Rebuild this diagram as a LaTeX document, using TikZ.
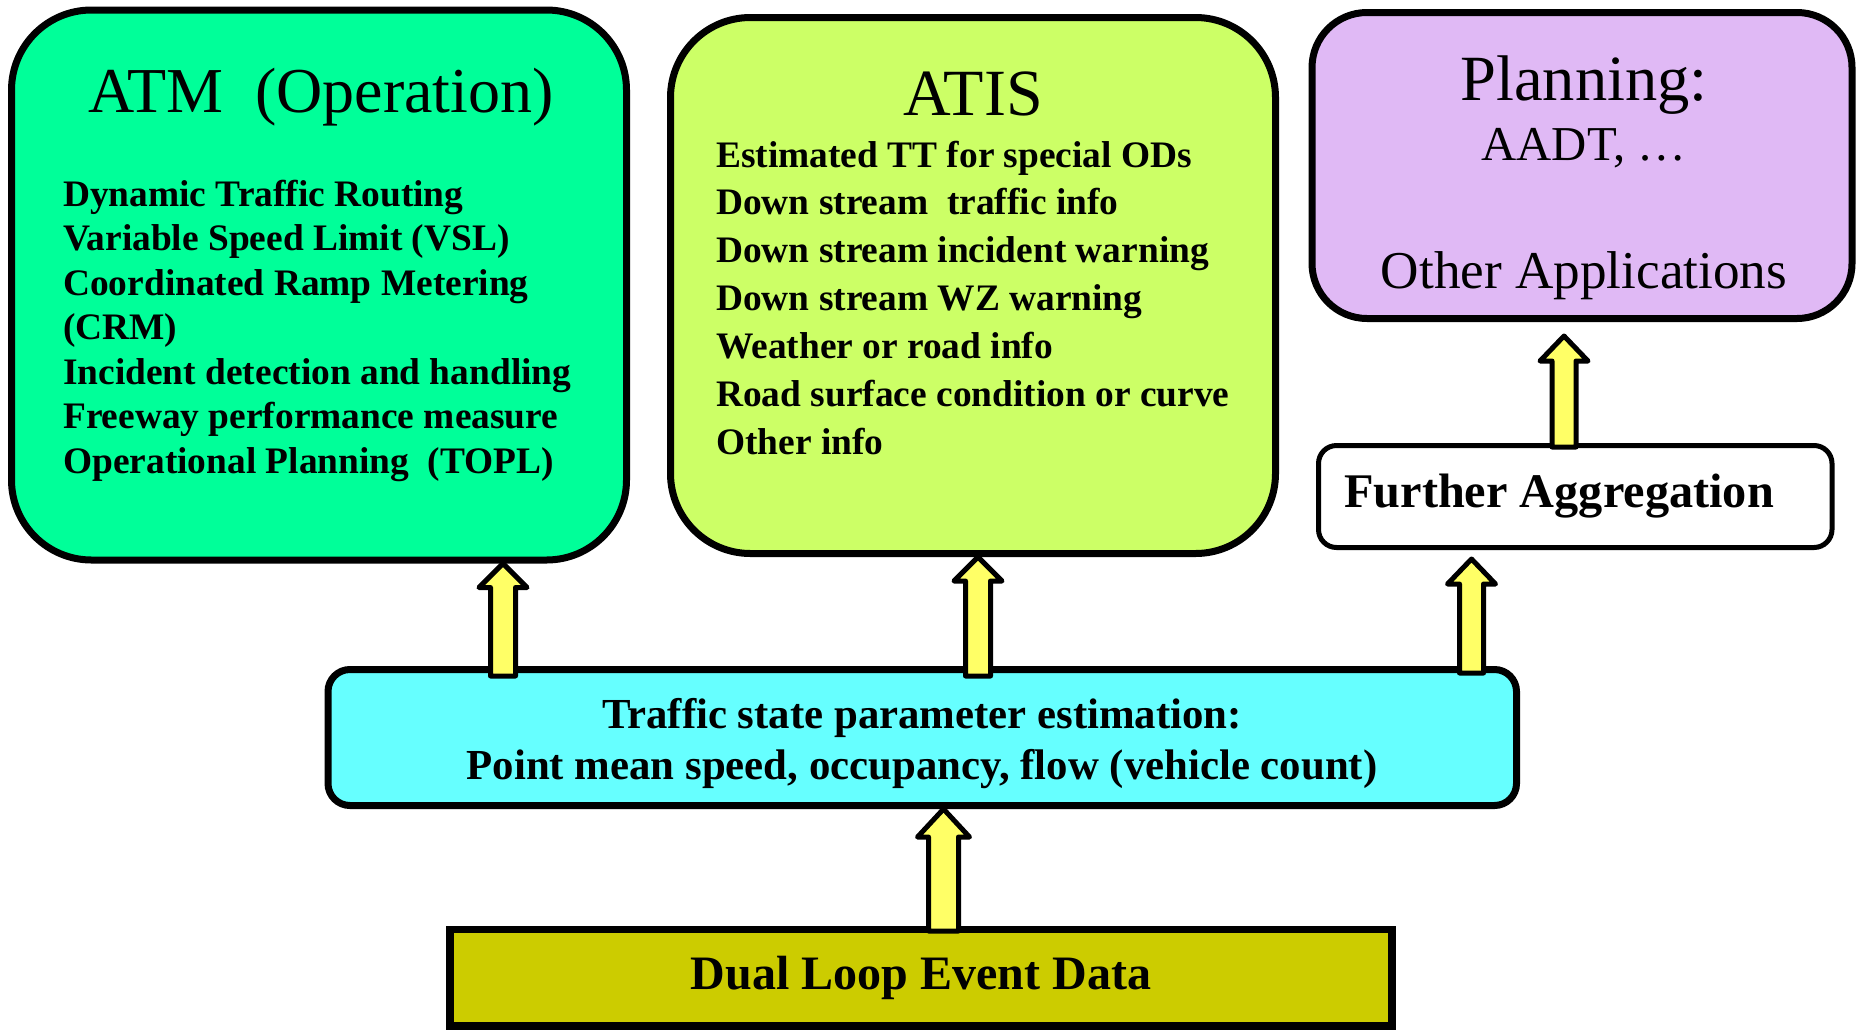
\documentclass[tikz,border=0pt]{standalone}
\usepackage{fontspec}
\setmainfont{Liberation Serif}
\usetikzlibrary{calc}
\definecolor{atmgreen}{HTML}{00FF99}
\definecolor{atisgreen}{HTML}{CCFF66}
\definecolor{planviolet}{HTML}{E0B9F5}
\definecolor{tscyan}{HTML}{66FFFF}
\definecolor{dloliv}{HTML}{CCCC00}
\definecolor{arryellow}{HTML}{FFFF66}
\newcommand\fsz[1]{\fontsize{#1}{#1}\selectfont}
\tikzset{
  box/.style={draw=black, line width=7pt, inner sep=0pt, anchor=center},
  blockarr/.style={draw=black, fill=arryellow, line width=5pt, line join=round},
  itemtxt/.style={anchor=base west, inner sep=0pt, font=\fsz{37.4}\bfseries},
  titletxt/.style={anchor=base, inner sep=0pt, font=\fsz{64.5}},
}
\newcommand\blockup[5]{%
  \draw[blockarr] let \p1=(#1), \p2=(#2) in
    (\x1-#3pt,\y1) -- (\x1-#3pt,\y2-#5pt) -- (\x1-#4pt,\y2-#5pt) -- (\x1,\y2)
    -- (\x1+#4pt,\y2-#5pt) -- (\x1+#3pt,\y2-#5pt) -- (\x1+#3pt,\y1) -- cycle;}
\begin{document}
\begin{tikzpicture}[x=1pt,y=-1pt]
\useasboundingbox[fill=white] (0,0) rectangle (1857,1029);

% boxes
\node[box, fill=atmgreen, rounded corners=80pt, minimum width=615pt, minimum height=550pt] (atm) at (319,285) {};
\node[box, fill=atisgreen, rounded corners=80pt, minimum width=605pt, minimum height=536pt] (atis) at (973,285.5) {};
\node[box, fill=planviolet, rounded corners=55pt, minimum width=540pt, minimum height=306pt] (plan) at (1582,165.5) {};
\node[box, fill=white, line width=5pt, rounded corners=18pt, minimum width=513.5pt, minimum height=102pt] (further) at (1575.25,496.5) {};
\node[box, fill=tscyan, rounded corners=22pt, minimum width=1188.5pt, minimum height=136pt] (traffic) at (922.25,737.5) {};
\node[box, fill=dloliv, line width=7.5pt, minimum width=942pt, minimum height=96.5pt] (dual) at (921,977.75) {};

% ATM text
\node[titletxt, font=\fsz{64}] (atmtitle) at (321,112.5) {ATM\ \ (Operation)};
\foreach \t [count=\i from 0] in {Dynamic Traffic Routing, Variable Speed Limit (VSL), Coordinated Ramp Metering, (CRM), Incident detection and handling, Freeway performance measure, {Operational Planning\ \ (TOPL)}}
  \node[itemtxt] (atmi\i) at (63,206+44.5*\i) {\t};

% ATIS text
\node[titletxt, font=\fsz{66}] (atistitle) at (973,115) {ATIS};
\foreach \t [count=\i from 0] in {Estimated TT for special ODs, {Down stream\ \ traffic info}, Down stream incident warning, Down stream WZ warning, Weather or road info, Road surface condition or curve, Other info}
  \node[itemtxt] (atisi\i) at (716,167+47.9*\i) {\t};

% Planning text
\node[titletxt] (plantitle) at (1584,100.7) {Planning:};
\node[anchor=base, inner sep=0pt, font=\fsz{48.7}] (aadt) at (1584,160) {AADT, …};
\node[anchor=base, inner sep=0pt, font=\fsz{53.2}] (otherapp) at (1584,288) {Other Applications};

% Further aggregation
\node[anchor=base west, inner sep=0pt, font=\fsz{48.3}\bfseries] (furthertxt) at (1344,507) {Further Aggregation};

% Traffic state
\node[anchor=base, inner sep=0pt, font=\fsz{42.8}\bfseries] (ts1) at (922,728) {Traffic state parameter estimation:};
\node[anchor=base, inner sep=0pt, font=\fsz{42.8}\bfseries] (ts2) at (922,779) {Point mean speed, occupancy, flow (vehicle count)};

% Dual loop
\node[anchor=base, inner sep=0pt, font=\fsz{48}\bfseries] (dualtxt) at (921,989) {Dual Loop Event Data};

% arrows
\coordinate (a1b) at (503,676);
\coordinate (a2b) at (978,676);
\coordinate (a3b) at (1471.5,673);
\coordinate (a3t) at (1471.5,559);
\coordinate (a4b) at (1564,447);
\coordinate (a4t) at (1564,336);
\coordinate (a5b) at (943.5,931);
\blockup{a1b}{a1b |- atm.south}{12.5}{24}{24}
\blockup{a2b}{a2b |- atis.south}{12.5}{24}{24}
\blockup{a3b}{a3t}{12}{24}{25}
\blockup{a4b}{a4t}{12}{24}{25}
\blockup{a5b}{a5b |- traffic.south}{15}{26}{28}
\end{tikzpicture}
\end{document}
